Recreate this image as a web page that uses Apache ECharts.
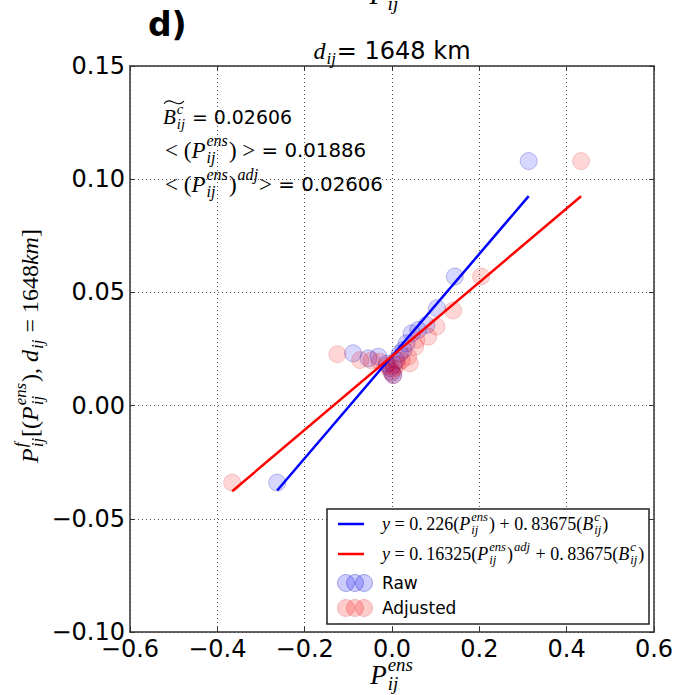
<!DOCTYPE html>
<html><head><meta charset="utf-8">
<script src="https://cdn.jsdelivr.net/npm/echarts@6/dist/echarts.min.js"></script>
<style>html,body{margin:0;padding:0;background:#fff}#c{width:688px;height:695px}</style>
</head><body><div id="c"></div><script>
// ---------- data ----------
const xTicks = [-0.6, -0.4, -0.2, 0.0, 0.2, 0.4, 0.6];
const yTicks = [-0.10, -0.05, 0.00, 0.05, 0.10, 0.15];
const rawPoints = [
  [0.313,0.108],[0.144,0.057],[0.103,0.043],[0.079,0.0356],[0.060,0.0334],[0.045,0.0319],
  [0.0335,0.0275],[0.026,0.0246],[0.018,0.023],[0.010,0.020],[0.004,0.018],[-0.004,0.0165],
  [0.003,0.0135],[0.000,0.0145],[-0.012,0.0185],[-0.031,0.0216],[-0.054,0.0209],[-0.089,0.0231],
  [-0.263,-0.034]
];
const adjustedPoints = [
  [0.433,0.108],[0.204,0.057],[0.140,0.042],[0.102,0.0349],[0.083,0.0304],[0.056,0.029],
  [0.053,0.026],[0.041,0.0187],[0.037,0.0216],[0.022,0.020],[0.012,0.018],[0.005,0.0165],
  [0.003,0.0135],[-0.002,0.015],[-0.012,0.0175],[-0.028,0.0194],[-0.047,0.020],[-0.073,0.0201],
  [-0.125,0.0227],[-0.366,-0.034]
];
const rawFit = [[-0.263,-0.0375],[0.313,0.0925]];
const adjustedFit = [[-0.366,-0.0378],[0.433,0.0925]];
const distanceKm = '1648';
const annotValues = ['0.02606','0.01886','0.02606'];
const legendNames = ['Raw','Adjusted'];

// ---------- math-like text helper ----------
const SERIF = '"Liberation Serif","DejaVu Serif",serif';
const SANS = '"DejaVu Sans",sans-serif';
const mctx = document.createElement('canvas').getContext('2d');
function tw(t, font){ mctx.font = font; return mctx.measureText(t).width; }
function fnt(kind, s){
  return kind === 'r' ? s + 'px ' + SANS : kind === 'i' ? 'italic ' + s + 'px ' + SERIF : s + 'px ' + SERIF;
}
function mathEls(tokens, S, color){
  const els = []; let x = 0;
  const txt = (t, kind, s, dx, dy) => {
    els.push({type:'text', x:dx, y:dy, z:101, style:{text:t, font:fnt(kind,s), fill:color,
      textAlign:'left', textVerticalAlign:'middle', align:'left', verticalAlign:'middle'}});
    return tw(t, fnt(kind,s));
  };
  for (const tk of tokens){
    if (tk.r !== undefined) x += txt(tk.r, 'r', S*(tk.k||0.9), x, 0);
    else if (tk.m !== undefined) x += txt(tk.m, 'm', S, x, 0);
    else if (tk.i !== undefined) x += txt(tk.i, 'i', S, x, 0);
    else {
      const x0 = x;
      if (tk.b) x += txt(tk.b, 'i', S, x, 0);
      const s2 = S*0.7; let w = 0;
      if (tk.sup) w = Math.max(w, txt(tk.sup, 'i', s2, x+1, -S*0.4));
      if (tk.sub) w = Math.max(w, txt(tk.sub, 'i', s2, x+1, S*0.33));
      if (tk.tilde){
        const W = x + w - x0;
        els.push({type:'bezierCurve', z:101, shape:{x1:x0+1, y1:-S*0.64, x2:x0+W, y2:-S*0.76,
          cpx1:x0+W*0.35, cpy1:-S*1.02, cpx2:x0+W*0.65, cpy2:-S*0.38},
          style:{stroke:color, lineWidth:1.1, fill:null}});
      }
      x += w + 2;
    }
  }
  return {els, width:x};
}
function mathGroup(tokens, S, px, py, align, rot){
  const r = mathEls(tokens, S, '#000');
  const off = align === 'center' ? -r.width/2 : align === 'right' ? -r.width : 0;
  return {type:'group', x:px, y:py, rotation:rot||0, z:101,
    children:[{type:'group', x:off, y:0, z:101, children:r.els}]};
}

// ---------- chart ----------
const chart = echarts.init(document.getElementById('c'), null, {renderer:'svg'});
const minus = v => String(v).replace('-', '\u2212');
const axisCommon = {
  axisLine:{onZero:false, lineStyle:{color:'#333', width:1.5}},
  axisTick:{inside:true, length:5, lineStyle:{color:'#333', width:1}},
};
const blueFill = 'rgba(0,0,255,0.2)', blueEdge = 'rgba(0,0,160,0.3)';
const redFill = 'rgba(255,0,0,0.2)', redEdge = 'rgba(190,0,0,0.22)';

const legendX = 327, legendY = 509;
function circles3(cy, fill, edge){
  return [0,1,2].map(i => ({type:'circle', shape:{cx:legendX+19+i*9, cy:cy, r:8.5},
    style:{fill:fill, stroke:edge, lineWidth:1}, z:101}));
}
const graphics = [
  {type:'text', x:148, y:24, z:101, style:{text:'d)', font:'bold 33px ' + SANS, fill:'#000',
    textVerticalAlign:'middle', verticalAlign:'middle'}},
  mathGroup([{b:'P',sup:'ens',sub:'ij'}], 28, 392, -6, 'center'),
  mathGroup([{b:'d',sub:'ij'},{r:'= ' + distanceKm + ' km', k:1}], 24, 392, 51, 'center'),
  mathGroup([{b:'B',sup:'c',sub:'ij',tilde:true},{r:' = ' + annotValues[0]}], 21, 163, 117, 'left'),
  mathGroup([{m:'< ('},{b:'P',sup:'ens',sub:'ij'},{m:') >'},{r:' = ' + annotValues[1], k:0.86}], 23, 165, 150, 'left'),
  mathGroup([{m:'< ('},{b:'P',sup:'ens',sub:'ij'},{m:')'},{sup:'adj'},{m:'>'},{r:' = ' + annotValues[2], k:0.86}], 23, 165, 184, 'left'),
  mathGroup([{b:'P',sup:'ens',sub:'ij'}], 27, 392, 675, 'center'),
  mathGroup([{b:'P',sup:'f',sub:'ij'},{m:'[('},{b:'P',sup:'ens',sub:'ij'},{m:'), '},{b:'d',sub:'ij'},
    {m:' = ' + distanceKm},{i:'km'},{m:']'}], 24, 30, 346, 'center', Math.PI/2),
  // legend
  {type:'rect', z:99, shape:{x:legendX, y:legendY, width:322, height:115},
    style:{fill:'#fff', stroke:'#222', lineWidth:1.5}},
  {type:'line', z:101, shape:{x1:legendX+11, y1:legendY+15, x2:legendX+37, y2:legendY+15},
    style:{stroke:'#0000ff', lineWidth:2.5}},
  {type:'line', z:101, shape:{x1:legendX+11, y1:legendY+45, x2:legendX+37, y2:legendY+45},
    style:{stroke:'#ff0000', lineWidth:2.5}},
  mathGroup([{i:'y'},{m:' = 0.\u2009226('},{b:'P',sup:'ens',sub:'ij'},{m:') + 0.\u200983675('},
    {b:'B',sup:'c',sub:'ij'},{m:')'}], 18, legendX+55, legendY+15, 'left'),
  mathGroup([{i:'y'},{m:' = 0.\u200916325('},{b:'P',sup:'ens',sub:'ij'},{m:')'},{sup:'adj'},
    {m:' + 0.\u200983675('},{b:'B',sup:'c',sub:'ij'},{m:')'}], 18, legendX+55, legendY+45, 'left'),
  ...circles3(legendY+74, blueFill, blueEdge),
  ...circles3(legendY+99, redFill, redEdge),
  {type:'text', x:legendX+55, y:legendY+74, z:101, style:{text:legendNames[0], font:'17px ' + SANS,
    fill:'#000', textVerticalAlign:'middle', verticalAlign:'middle'}},
  {type:'text', x:legendX+55, y:legendY+99, z:101, style:{text:legendNames[1], font:'17px ' + SANS,
    fill:'#000', textVerticalAlign:'middle', verticalAlign:'middle'}},
];

chart.setOption({
  animation:false,
  backgroundColor:'#fff',
  grid:{left:130, right:34, top:66, bottom:63},
  xAxis:[
    Object.assign({type:'value', position:'bottom', min:xTicks[0], max:xTicks[xTicks.length-1], interval:0.2,
      axisLabel:{formatter:v => minus(v.toFixed(1)), fontSize:24, fontFamily:'DejaVu Sans', color:'#000', margin:5},
      splitLine:{show:true, lineStyle:{type:[1,3], color:'#555', width:1}}}, axisCommon),
    Object.assign({type:'value', position:'top', min:xTicks[0], max:xTicks[xTicks.length-1], interval:0.2,
      axisLabel:{show:false}, splitLine:{show:false}}, axisCommon)
  ],
  yAxis:[
    Object.assign({type:'value', position:'left', min:yTicks[0], max:yTicks[yTicks.length-1], interval:0.05,
      axisLabel:{formatter:v => minus(v.toFixed(2)), fontSize:24, fontFamily:'DejaVu Sans', color:'#000', margin:5},
      splitLine:{show:true, lineStyle:{type:[1,3], color:'#555', width:1}}}, axisCommon),
    Object.assign({type:'value', position:'right', min:yTicks[0], max:yTicks[yTicks.length-1], interval:0.05,
      axisLabel:{show:false}, splitLine:{show:false}}, axisCommon)
  ],
  series:[
    {name:legendNames[0], type:'scatter', data:rawPoints, symbolSize:17,
      itemStyle:{color:blueFill, borderColor:blueEdge, borderWidth:1}},
    {name:legendNames[1], type:'scatter', data:adjustedPoints, symbolSize:17,
      itemStyle:{color:redFill, borderColor:redEdge, borderWidth:1}},
    {name:'fit raw', type:'line', data:rawFit, symbol:'none', lineStyle:{color:'#0000ff', width:2.5}, z:5},
    {name:'fit adjusted', type:'line', data:adjustedFit, symbol:'none', lineStyle:{color:'#ff0000', width:2.5}, z:6}
  ],
  graphic:graphics
});
</script></body></html>
